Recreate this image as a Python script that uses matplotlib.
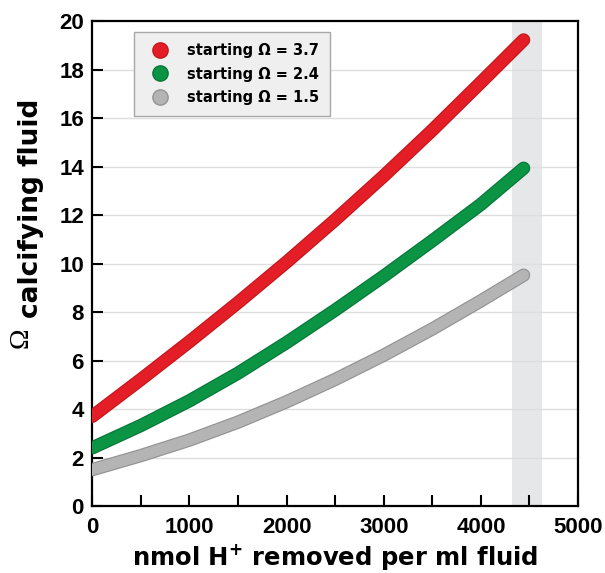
import matplotlib
matplotlib.use("Agg")
import matplotlib.pyplot as plt
from matplotlib.lines import Line2D
from matplotlib.ticker import MultipleLocator

# nmol H+ removed per ml fluid
h_removed = [0, 500, 1000, 1500, 2000, 2500, 3000, 3500, 4000, 4440]

# Omega of calcifying fluid for three starting values
omega_37 = [3.7, 5.22, 6.78, 8.39, 10.06, 11.8, 13.61, 15.5, 17.47, 19.22]
omega_24 = [2.4, 3.32, 4.34, 5.48, 6.74, 8.08, 9.48, 10.94, 12.44, 13.93]
omega_15 = [1.5, 2.08, 2.72, 3.46, 4.3, 5.22, 6.22, 7.3, 8.46, 9.52]

series_labels = ["starting \u03a9 = 3.7", "starting \u03a9 = 2.4", "starting \u03a9 = 1.5"]
face_colors = ["#e41e26", "#0a9444", "#b4b4b4"]
edge_colors = ["#c4161c", "#07773a", "#939393"]

band = (4320, 4630)

plt.rcParams["font.family"] = ["DejaVu Sans"]
plt.rcParams["font.weight"] = "bold"

fig = plt.figure(figsize=(6.05, 5.73), dpi=100)
ax = fig.add_axes([0.1526, 0.1169, 0.8028, 0.8464])

ax.axvspan(band[0], band[1], color="#e6e7e9", zorder=0, lw=0)
for yv in range(2, 20, 2):
    ax.axhline(yv, color="#dedede", lw=1.0, zorder=1)

for ys, fc, ec in zip([omega_37, omega_24, omega_15], face_colors, edge_colors):
    ax.plot(h_removed, ys, color=ec, lw=9.6, solid_capstyle="round",
            solid_joinstyle="round", zorder=3)
    ax.plot(h_removed, ys, color=fc, lw=7.9, solid_capstyle="round",
            solid_joinstyle="round", zorder=4)

ax.set_xlim(0, 5000)
ax.set_ylim(0, 20)
ax.xaxis.set_major_locator(MultipleLocator(1000))
ax.xaxis.set_minor_locator(MultipleLocator(500))
ax.yaxis.set_major_locator(MultipleLocator(2))

ax.tick_params(axis="both", which="both", direction="in", length=8, width=1.5,
               labelsize=16, pad=6, top=False, right=False)
ax.tick_params(axis="x", pad=8)
for lab in ax.get_xticklabels() + ax.get_yticklabels():
    lab.set_fontweight("bold")
    lab.set_family("Liberation Sans")
for sp in ax.spines.values():
    sp.set_linewidth(1.6)
    sp.set_color("black")

ax.set_xlabel("nmol H$^{\\mathbf{+}}$ removed per ml fluid", fontsize=17.5,
              fontweight="bold", labelpad=3)

# y label: large Omega with bold subscript text
fig.text(0.035, 0.41, "\u03a9", rotation=90, fontsize=20, fontweight="normal",
         family="Liberation Serif", ha="center", va="center")
fig.text(0.052, 0.637, "calcifying fluid", rotation=90, fontsize=19,
         fontweight="bold", ha="center", va="center")

handles = [Line2D([], [], ls="none", marker="o", markersize=11,
                  markerfacecolor=fc, markeredgecolor=ec)
           for fc, ec in zip(face_colors, edge_colors)]
leg = ax.legend(handles, series_labels, loc="upper left",
                bbox_to_anchor=(0.0859, 0.977), borderaxespad=0,
                fontsize=10.5, frameon=True, fancybox=False, framealpha=1,
                handlelength=2.0, handletextpad=0.85, labelspacing=0.58,
                borderpad=0.75)
leg.get_frame().set_facecolor("#efefef")
leg.get_frame().set_edgecolor("#a8a8a8")
leg.get_frame().set_linewidth(1.0)
for t in leg.get_texts():
    t.set_fontweight("bold")

fig.savefig("out.png", dpi=100)
